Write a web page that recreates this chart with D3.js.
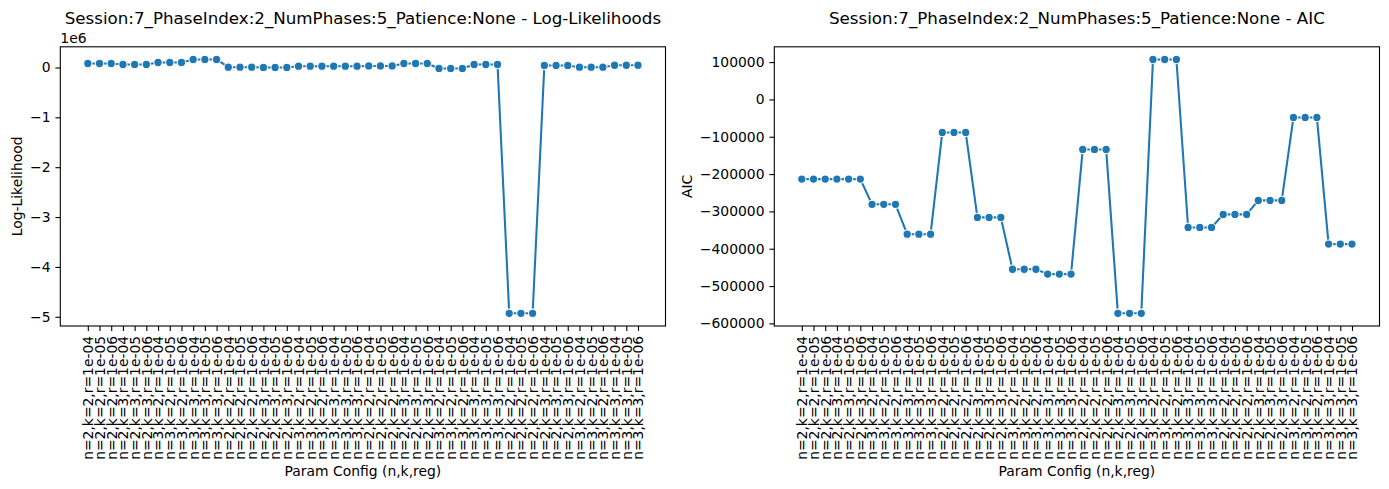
<!DOCTYPE html>
<html><head><meta charset="utf-8">
<script src="https://cdn.jsdelivr.net/npm/d3@7"></script>
<style>
body{margin:0;background:#fff;}
text{font-family:"DejaVu Sans",sans-serif;fill:#000;}
</style></head>
<body>
<svg id="chart" width="1389" height="489"></svg>
<script>
const configLabels = [
"n=2,k=2,r=1e-04","n=2,k=2,r=1e-05","n=2,k=2,r=1e-06","n=2,k=3,r=1e-04","n=2,k=3,r=1e-05","n=2,k=3,r=1e-06",
"n=3,k=2,r=1e-04","n=3,k=2,r=1e-05","n=3,k=2,r=1e-06","n=3,k=3,r=1e-04","n=3,k=3,r=1e-05","n=3,k=3,r=1e-06",
"n=2,k=2,r=1e-04","n=2,k=2,r=1e-05","n=2,k=2,r=1e-06","n=2,k=3,r=1e-04","n=2,k=3,r=1e-05","n=2,k=3,r=1e-06",
"n=3,k=2,r=1e-04","n=3,k=2,r=1e-05","n=3,k=2,r=1e-06","n=3,k=3,r=1e-04","n=3,k=3,r=1e-05","n=3,k=3,r=1e-06",
"n=2,k=2,r=1e-04","n=2,k=2,r=1e-05","n=2,k=2,r=1e-06","n=2,k=3,r=1e-04","n=2,k=3,r=1e-05","n=2,k=3,r=1e-06",
"n=3,k=2,r=1e-04","n=3,k=2,r=1e-05","n=3,k=2,r=1e-06","n=3,k=3,r=1e-04","n=3,k=3,r=1e-05","n=3,k=3,r=1e-06",
"n=2,k=2,r=1e-04","n=2,k=2,r=1e-05","n=2,k=2,r=1e-06","n=2,k=3,r=1e-04","n=2,k=3,r=1e-05","n=2,k=3,r=1e-06",
"n=3,k=2,r=1e-04","n=3,k=2,r=1e-05","n=3,k=2,r=1e-06","n=3,k=3,r=1e-04","n=3,k=3,r=1e-05","n=3,k=3,r=1e-06"
];
const logLikelihood = [
80000,80000,80000,60000,60000,60000,100000,100000,100000,160000,160000,160000,
5000,5000,5000,0,0,0,25000,25000,25000,25000,25000,25000,
30000,30000,30000,80000,80000,80000,-20000,-20000,-20000,60000,60000,60000,
-4930000,-4930000,-4930000,40000,40000,40000,5000,5000,5000,45000,45000,45000
];
const aicValues = [
-213500,-213500,-213500,-213500,-213500,-213500,-281000,-281000,-281000,-361000,-361000,-361000,
-88400,-88400,-88400,-316000,-316000,-316000,-455000,-455000,-455000,-468000,-468000,-468000,
-134000,-134000,-134000,-573000,-573000,-573000,107000,107000,107000,-343000,-343000,-343000,
-308000,-308000,-308000,-270500,-270500,-270500,-48200,-48200,-48200,-387600,-387600,-387600
];
const llTicks = [-5e6,-4e6,-3e6,-2e6,-1e6,0];
const aicTicks = [-600000,-500000,-400000,-300000,-200000,-100000,0,100000];

(function(){
const svg = d3.select("#chart");
const color = "#1f77b4";
const plotTop = 46.8, plotBottom = 326;

function panel(opts){
  const {x0,x1,values,ticks,fmt,title,ylabel,ylabelX,offsetText} = opts;
  const n = values.length;
  const xm = (n-1)*0.05;
  const x = d3.scaleLinear().domain([-xm, n-1+xm]).range([x0,x1]);
  const mn = d3.min(values), mx = d3.max(values), ym=(mx-mn)*0.05;
  const y = d3.scaleLinear().domain([mn-ym, mx+ym]).range([plotBottom, plotTop]);
  const g = svg.append("g");

  const xa = g.append("g").attr("transform",`translate(0,${plotBottom})`)
    .call(d3.axisBottom(x).tickValues(d3.range(n)).tickFormat(i=>configLabels[i]).tickSize(4.9).tickPadding(4.9));
  xa.selectAll("text").attr("transform","rotate(-90)").attr("text-anchor","end")
    .attr("x",-9.8).attr("y",0).attr("dy","0.35em").style("font-size","13.9px").style("font-family","DejaVu Sans");
  xa.select(".domain").remove();
  xa.selectAll("line").attr("stroke","#000").attr("stroke-width",1.1);

  const ya = g.append("g").attr("transform",`translate(${x0},0)`)
    .call(d3.axisLeft(y).tickValues(ticks).tickFormat(fmt).tickSize(4.9).tickPadding(4.9));
  ya.select(".domain").remove();
  ya.selectAll("text").style("font-size","13.9px").style("font-family","DejaVu Sans");
  ya.selectAll("line").attr("stroke","#000").attr("stroke-width",1.1);

  const line = d3.line().x((d,i)=>x(i)).y(d=>y(d));
  g.append("path").datum(values).attr("d",line).attr("fill","none")
    .attr("stroke",color).attr("stroke-width",2.08).attr("stroke-linejoin","round").attr("stroke-linecap","square");
  g.selectAll("circle.m").data(values).join("circle").attr("class","m")
    .attr("cx",(d,i)=>x(i)).attr("cy",d=>y(d)).attr("r",4.17)
    .attr("fill",color).attr("stroke","#fff").attr("stroke-width",1.04);

  g.append("rect").attr("x",x0).attr("y",plotTop).attr("width",x1-x0).attr("height",plotBottom-plotTop)
    .attr("fill","none").attr("stroke","#000").attr("stroke-width",1.1);

  g.append("text").attr("x",(x0+x1)/2).attr("y",24).attr("text-anchor","middle")
    .style("font-size","16.7px").text(title);
  g.append("text").attr("x",(x0+x1)/2).attr("y",476).attr("text-anchor","middle")
    .style("font-size","13.9px").text("Param Config (n,k,reg)");
  g.append("text").attr("transform",`translate(${ylabelX},${(plotTop+plotBottom)/2}) rotate(-90)`)
    .attr("text-anchor","middle").style("font-size","13.9px").text(ylabel);
  if(offsetText){
    g.append("text").attr("x",x0).attr("y",plotTop-4).style("font-size","13.9px").text(offsetText);
  }
}

panel({x0:60.3,x1:665.5,values:logLikelihood,ticks:llTicks,
  fmt:d=>d3.format("d")(d/1e6),
  title:"Session:7_PhaseIndex:2_NumPhases:5_Patience:None - Log-Likelihoods",
  ylabel:"Log-Likelihood",ylabelX:22,offsetText:"1e6"});
panel({x0:774.3,x1:1379.5,values:aicValues,ticks:aicTicks,
  fmt:d3.format("d"),
  title:"Session:7_PhaseIndex:2_NumPhases:5_Patience:None - AIC",
  ylabel:"AIC",ylabelX:692,offsetText:null});
})();
</script>
</body></html>
